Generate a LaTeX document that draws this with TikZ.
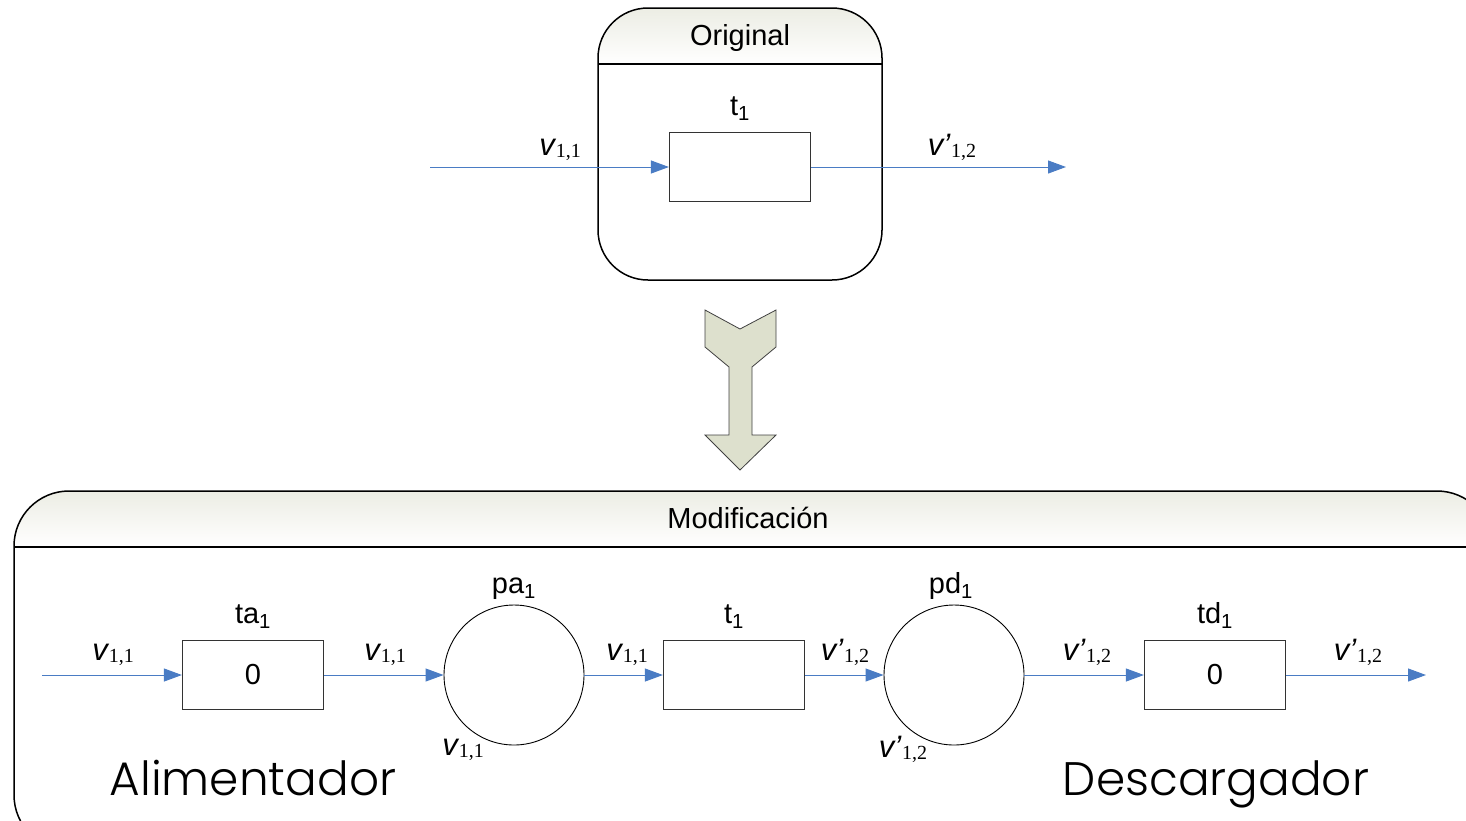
\documentclass[tikz,border=0pt]{standalone}
\usepackage{fontspec}
\setmainfont{Liberation Serif}
\setsansfont{Liberation Sans}
\newfontfamily\gothic{Poppins}[UprightFont=* Light]
\usetikzlibrary{arrows.meta}
\definecolor{arrowblue}{RGB}{74,124,196}
\definecolor{sage}{RGB}{221,224,205}
\definecolor{hdr}{RGB}{236,237,228}
\newcommand\vlab[2]{{\fontsize{31}{31}\selectfont\sffamily\itshape v#1}\hspace{1pt}\raisebox{-2.5pt}{\fontsize{20}{20}\selectfont\rmfamily #2}}
\newcommand\sub[2]{#1\textsubscript{#2}}
\begin{document}
\begin{tikzpicture}[x=1pt,y=-1pt,
  trans/.style={draw=black!80, line width=1.2pt, minimum width=141pt, minimum height=69pt, inner sep=0pt, font=\fontsize{29}{29}\selectfont\sffamily},
  place/.style={circle, draw=black, line width=0.9pt, minimum size=140pt, inner sep=0pt},
  flow/.style={draw=arrowblue, line width=1pt, -{Triangle[length=18pt,width=13pt]}},
  lbl/.style={font=\fontsize{29}{29}\selectfont\sffamily, inner sep=0pt, anchor=base},
  vl/.style={inner sep=0pt, anchor=base},
  big/.style={font=\gothic\fontsize{47}{47}\selectfont, inner sep=0pt, anchor=base},
  frame/.style={line width=1.5pt, draw=black}
]
\useasboundingbox (0,0) rectangle (1466,820);
\begin{scope}
\clip (0,0) rectangle (1466,820);
% ---------- top box ----------
\begin{scope}
\clip[rounded corners=50pt] (598,8) rectangle (882,280);
\shade[top color=hdr, bottom color=white] (598,8) rectangle (882,64);
\end{scope}
\draw[frame, rounded corners=50pt] (598,8) rectangle (882,280);
\draw[frame] (598,64) -- (882,64);
\node[lbl] (orig) at (740,45) {Original};
\node[trans] (t0) at (740,167) {};
\node[lbl] (t0l) at (740,115) {\sub{t}{1}};
\coordinate (in0) at (430,167);
\coordinate (out0) at (1066,167);
\draw[flow] (in0) -- (t0.west);
\draw[flow] (t0.east) -- (out0);
\node[vl] (l0a) at (560,155) {\vlab{}{1,1}};
\node[vl] (l0b) at (952,155) {\vlab{\char"27}{1,2}};
% ---------- big arrow ----------
\filldraw[fill=sage, draw=black!75, line width=0.8pt]
  (705,310) -- (740,329) -- (776,310) -- (776,347) -- (752,367) -- (752,435)
  -- (776,435) -- (740,470) -- (705,435) -- (729,435) -- (729,367) -- (705,347) -- cycle;
% ---------- bottom box ----------
\begin{scope}
\clip[rounded corners=55pt] (14,491) rectangle (1492,850);
\shade[top color=hdr, bottom color=white] (14,491) rectangle (1492,547);
\end{scope}
\draw[frame, rounded corners=55pt] (14,491) rectangle (1492,850);
\draw[frame] (14,547) -- (1492,547);
\node[lbl] (mod) at (748,528) {Modificación};
% nodes
\node[trans] (ta) at (253,675) {0};
\node[place] (pa) at (514,675) {};
\node[trans] (t1) at (734,675) {};
\node[place] (pd) at (954,675) {};
\node[trans] (td) at (1215,675) {0};
\coordinate (in1) at (42,675);
\coordinate (out1) at (1426,675);
\draw[flow] (in1) -- (ta.west);
\draw[flow] (ta.east) -- (pa.west);
\draw[flow] (pa.east) -- (t1.west);
\draw[flow] (t1.east) -- (pd.west);
\draw[flow] (pd.east) -- (td.west);
\draw[flow] (td.east) -- (out1);
% node labels
\node[lbl] (tal) at (253,623) {\sub{ta}{1}};
\node[lbl] (pal) at (514,593) {\sub{pa}{1}};
\node[lbl] (t1l) at (734,623) {\sub{t}{1}};
\node[lbl] (pdl) at (951,593) {\sub{pd}{1}};
\node[lbl] (tdl) at (1215,623) {\sub{td}{1}};
% arc labels
\node[vl] (a1) at (113,660) {\vlab{}{1,1}};
\node[vl] (a2) at (385,660) {\vlab{}{1,1}};
\node[vl] (a3) at (627,660) {\vlab{}{1,1}};
\node[vl] (a4) at (845,660) {\vlab{\char"27}{1,2}};
\node[vl] (a5) at (1087,660) {\vlab{\char"27}{1,2}};
\node[vl] (a6) at (1358,660) {\vlab{\char"27}{1,2}};
\node[vl] (m1) at (463,755) {\vlab{}{1,1}};
\node[vl] (m2) at (903,757) {\vlab{\char"27}{1,2}};
% section names
\node[big] (alim) at (253,795) {Alimentador};
\node[big] (desc) at (1216,795) {Descargador};
\end{scope}
\end{tikzpicture}
\end{document}
